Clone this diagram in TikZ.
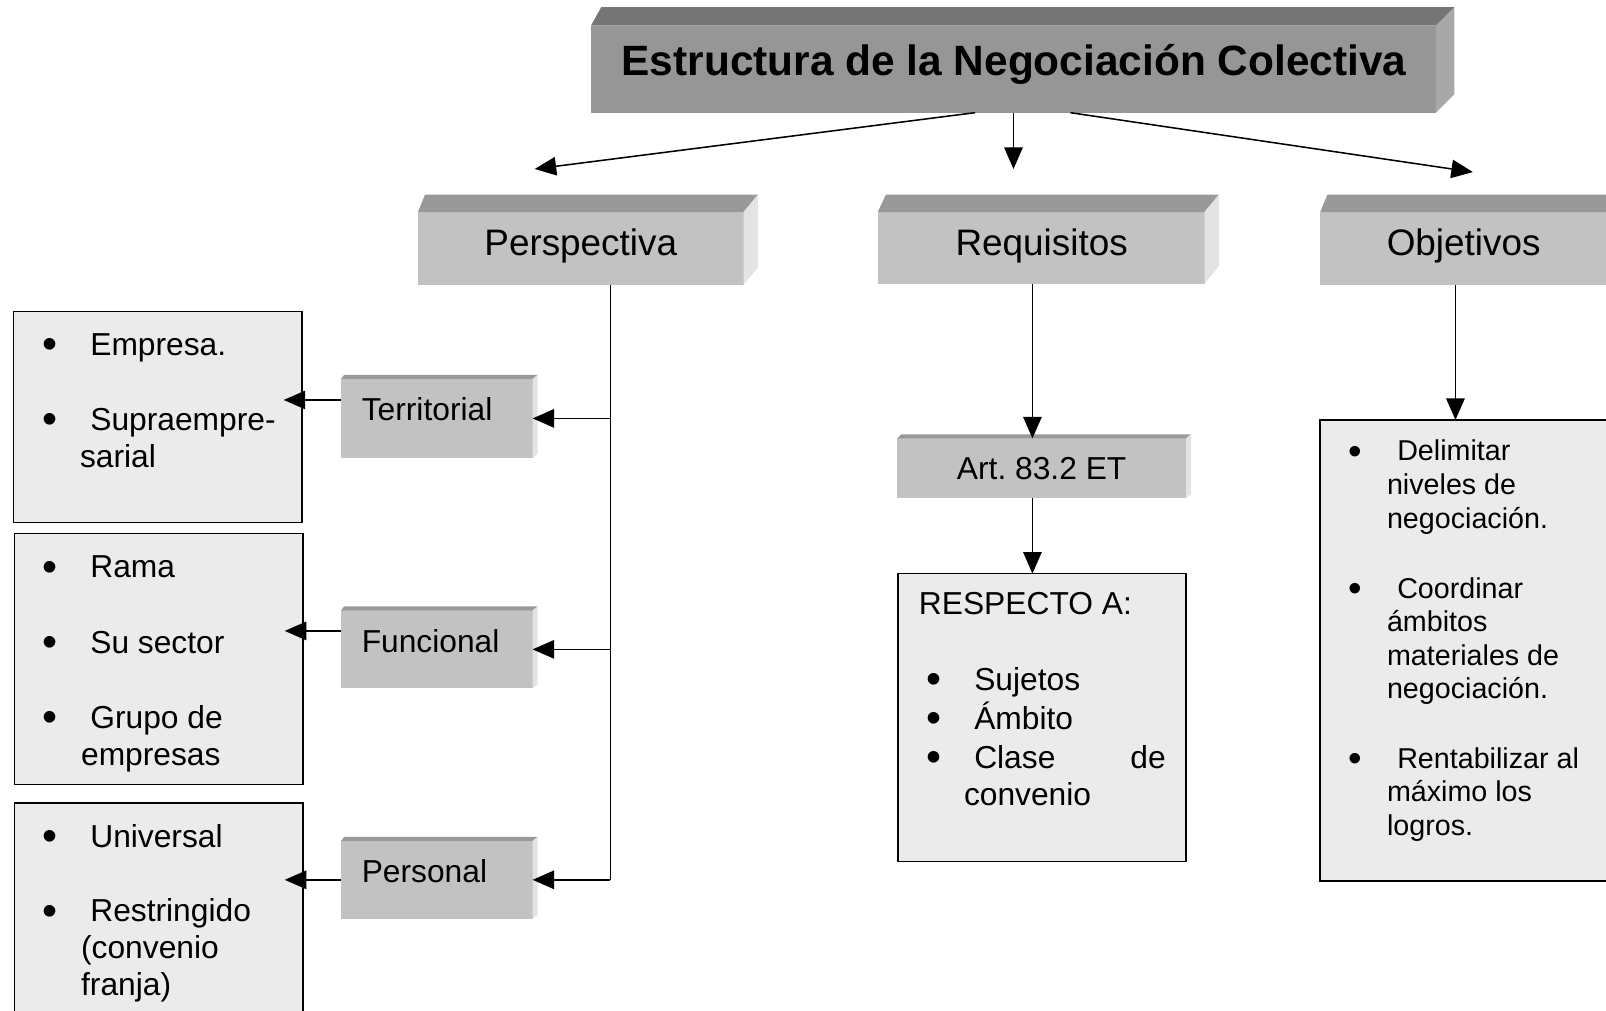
\documentclass[tikz,border=0pt]{standalone}
\usepackage{fontspec}
\usepackage{graphicx}
\setmainfont{Liberation Sans}
\usetikzlibrary{arrows.meta,calc}
\frenchspacing
\definecolor{tfront}{gray}{0.59}
\definecolor{ttop}{gray}{0.46}
\definecolor{tside}{gray}{0.66}
\definecolor{bfront}{gray}{0.76}
\definecolor{btop}{gray}{0.60}
\definecolor{bside}{gray}{0.89}
\definecolor{lfill}{gray}{0.92}
\newcommand\extrude[6]{%
 \fill[#5] (#1.north west) -- ++(#2,-#4) -- ([shift={(#3,-#4)}]#1.north east) -- (#1.north east) -- cycle;
 \fill[#6] (#1.north east) -- ([shift={(#3,-#4)}]#1.north east) -- ([shift={(#3,-#4)}]#1.south east) -- (#1.south east) -- cycle;}
\newcommand\bul[1][45.5pt]{\makebox[#1][l]{\hspace*{-1.5pt}\raisebox{-0.11em}{\scalebox{1.35}{\textbullet}}}}
\begin{document}
\begin{tikzpicture}[x=1pt,y=-1pt,
 arr/.style={-{Triangle[length=21pt,width=18pt]}, line width=1.5pt},
 ln/.style={line width=1.5pt},
 face/.style={rectangle, inner sep=0pt, outer sep=0pt},
 listbox/.style={face, draw=black, line width=1.5pt, fill=lfill},
 item/.style={inner sep=0pt, anchor=base west, font=\fontsize{31}{36}\selectfont},
 oitem/.style={inner sep=0pt, anchor=base west, font=\fontsize{28}{33}\selectfont},
 lvl/.style={inner sep=0pt, anchor=base, font=\fontsize{36}{42}\selectfont}
]
\useasboundingbox (0,0) rectangle (1568,987);
\clip (0,0) rectangle (1568,987);

% ---- boxes
\node[face, fill=tfront, minimum width=825pt, minimum height=85pt] (title) at (989.5,67.5) {};
\extrude{title}{10}{18}{18}{ttop}{tside}

\node[face, fill=bfront, minimum width=318pt, minimum height=71pt] (persp) at (567,242.5) {};
\extrude{persp}{7}{14}{17}{btop}{bside}
\node[face, fill=bfront, minimum width=319pt, minimum height=70pt] (req) at (1016.5,242) {};
\extrude{req}{8}{14}{17}{btop}{bside}
\node[face, fill=bfront, minimum width=300pt, minimum height=71pt] (obj) at (1439,242.5) {};
\extrude{obj}{7}{14}{17}{btop}{bside}

\node[face, fill=bfront, minimum width=187pt, minimum height=77pt] (terr) at (426.5,408.5) {};
\extrude{terr}{3}{5}{4}{btop}{bside}
\node[face, fill=bfront, minimum width=187pt, minimum height=76pt] (func) at (426.5,634) {};
\extrude{func}{3}{5}{4}{btop}{bside}
\node[face, fill=bfront, minimum width=187pt, minimum height=76pt] (pers) at (426.5,859) {};
\extrude{pers}{3}{5}{4}{btop}{bside}
\node[face, fill=bfront, minimum width=282pt, minimum height=58pt] (art) at (1017,457) {};
\extrude{art}{4}{5}{4}{btop}{bside}

\node[listbox, minimum width=282pt, minimum height=206pt] (lb1) at (154,407) {};
\node[listbox, minimum width=282pt, minimum height=245pt] (lb2) at (155,643.5) {};
\node[listbox, minimum width=282pt, minimum height=226pt] (lb3) at (155,897) {};
\node[listbox, minimum width=281pt, minimum height=281pt] (resp) at (1017.5,700.5) {};
\node[listbox, minimum width=311pt, minimum height=450pt] (objl) at (1444.5,635) {};

% ---- texts
\node[inner sep=0pt, anchor=base, font=\fontsize{41.4}{48}\selectfont\bfseries] (titletxt) at (990,74) {Estructura de la Negociación Colectiva};
\node[lvl] (tpersp) at (567,249) {Perspectiva};
\node[lvl] (treq) at (1017,249) {Requisitos};
\node[lvl] (tobj) at (1429,249) {Objetivos};
\node[item] (tterr) at (353,411) {Territorial};
\node[item] (tfunc) at (353,637) {Funcional};
\node[item] (tpers) at (353,862) {Personal};
\node[item, anchor=base] (tart) at (1017,468) {Art. 83.2 ET};

\node[item] (t1a) at (42.5,347) {\bul Empresa.};
\node[item] (t1b) at (42.5,420) {\bul Supraempre-};
\node[item] (t1c) at (78,456) {sarial};

\node[item] (t2a) at (42.5,564) {\bul Rama};
\node[item] (t2b) at (42.5,638) {\bul Su sector};
\node[item] (t2c) at (42.5,711) {\bul Grupo de};
\node[item] (t2d) at (79,747) {empresas};

\node[item] (t3a) at (42.5,827) {\bul Universal};
\node[item] (t3b) at (42.5,900) {\bul Restringido};
\node[item] (t3c) at (79,936) {(convenio};
\node[item] (t3d) at (79,972) {franja)};

\node[item] (r0) at (897,600) {RESPECTO A:};
\node[item] (r1) at (905.5,674) {\bul Sujetos};
\node[item] (r2) at (905.5,712) {\bul Ámbito};
\node[item] (r3) at (905.5,750) {\bul\makebox[187pt][l]{Clase\hfill de}};
\node[item] (r4) at (941,786) {convenio};

\node[oitem] (o1) at (1318,450) {\bul[46pt]Delimitar};
\node[oitem] (o2) at (1354,483) {niveles de};
\node[oitem] (o3) at (1354,516) {negociación.};
\node[oitem] (o4) at (1318,584) {\bul[46pt]Coordinar};
\node[oitem] (o5) at (1354,617) {ámbitos};
\node[oitem] (o6) at (1354,650) {materiales de};
\node[oitem] (o7) at (1354,682) {negociación.};
\node[oitem] (o8) at (1318,750) {\bul[46pt]Rentabilizar al};
\node[oitem] (o9) at (1354,783) {máximo los};
\node[oitem] (o10) at (1354,816) {logros.};

% ---- connectors
\coordinate (tl) at (522,165);
\coordinate (tm) at (989.5,165);
\coordinate (tr) at (1438,168);
\draw[arr] ([xshift=-37.5pt]title.south) -- (tl);
\draw[arr] (title.south) -- (tm);
\draw[arr] ([xshift=55.5pt]title.south) -- (tr);

\coordinate (pj) at (596,859);
\draw[ln] (persp.south -| pj) -- (pj);
\draw[arr] (terr.east -| pj) -- (terr.east);
\draw[arr] (func.east -| pj) -- (func.east);
\draw[arr] (pers.east -| pj) -- (pers.east);

\draw[arr, shorten >=-18pt] ([yshift=18pt]terr.west) -- ([yshift=18pt]terr.west -| lb1.east);
\draw[arr, shorten >=-18pt] ([yshift=18pt]func.west) -- ([yshift=18pt]func.west -| lb2.east);
\draw[arr, shorten >=-18pt] (pers.west) -- (pers.west -| lb3.east);

\coordinate (rx) at (1008,0);
\draw[arr] (req.south -| rx) -- (art.north -| rx);
\draw[arr] (art.south -| rx) -- (resp.north -| rx);

\coordinate (ox) at (1421,0);
\draw[arr] (obj.south -| ox) -- (objl.north -| ox);
\end{tikzpicture}
\end{document}
